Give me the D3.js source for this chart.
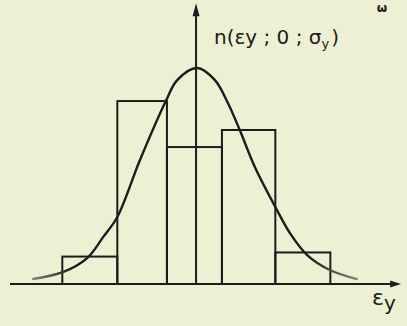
<!DOCTYPE html>
<html>
<head>
<meta charset="utf-8">
<script src="https://cdn.jsdelivr.net/npm/d3@7"></script>
<style>
  html, body { margin: 0; padding: 0; background: #eef0d4; }
  svg { display: block; }
  text { font-family: "DejaVu Sans", sans-serif; fill: #1c1c1c; }
</style>
</head>
<body>
<svg id="chart" width="407" height="326"></svg>
<script>
// Histogram of the error εy (in units of σy) with the fitted normal curve n(εy; 0; σy)
const binEdges   = [-2.48, -1.46, -0.54, 0.48, 1.47, 2.49];
const binHeights = [0.127, 0.847, 0.634, 0.713, 0.146];

// Points (x in σy, height relative to the peak)
const curveX = [-3.02, -2.46, -2.02, -1.72, -1.46, -1.04, -0.56, -0.35, 0.02, 0.35, 0.59, 0.81, 1.09, 1.48, 1.74, 2.06, 2.48, 2.98];
const curveY = [0.023, 0.056, 0.12, 0.218, 0.31, 0.574, 0.847, 0.944, 1.0, 0.944, 0.838, 0.713, 0.542, 0.352, 0.236, 0.134, 0.065, 0.023];

const axisLabelX = ["ε", "y"];
const curveLabel = ["n(εy ; 0 ; σ", "y", ")"];

const svg = d3.select("#chart");
const ink = "#1c1c1c";

const x = d3.scaleLinear().domain([-3.45, 3.8]).range([10, 401]);
const y = d3.scaleLinear().domain([0, 1]).range([284, 68]);

// bars
const bins = binHeights.map((h, i) => ({ x0: binEdges[i], x1: binEdges[i + 1], h }));
svg.append("g").selectAll("rect").data(bins).join("rect")
  .attr("x", d => x(d.x0))
  .attr("y", d => y(d.h))
  .attr("width", d => x(d.x1) - x(d.x0))
  .attr("height", d => y(0) - y(d.h))
  .attr("fill", "none")
  .attr("stroke", ink)
  .attr("stroke-width", 2);

// normal curve, fading slightly toward the tails
const grad = svg.append("defs").append("linearGradient")
  .attr("id", "tail").attr("gradientUnits", "userSpaceOnUse")
  .attr("x1", x(-3.05)).attr("x2", x(3.0)).attr("y1", 0).attr("y2", 0);
[[0, "#8a8a7a"], [0.12, "#1c1c1c"], [0.85, "#1c1c1c"], [1, "#8a8a7a"]].forEach(([o, c]) =>
  grad.append("stop").attr("offset", o).attr("stop-color", c));

const pts = curveX.map((v, i) => [v, curveY[i]]);
svg.append("path")
  .datum(pts)
  .attr("fill", "none")
  .attr("stroke", "url(#tail)")
  .attr("stroke-width", 2.4)
  .attr("stroke-linecap", "round")
  .attr("d", d3.line().x(d => x(d[0])).y(d => y(d[1])).curve(d3.curveCatmullRom.alpha(0.5)));

// axes
const axes = svg.append("g").attr("stroke", ink).attr("stroke-width", 2);
axes.append("line").attr("x1", x(-3.45)).attr("x2", x(3.72)).attr("y1", y(0)).attr("y2", y(0));
axes.append("line").attr("x1", x(0)).attr("x2", x(0)).attr("y1", y(0)).attr("y2", y(1.27));
svg.append("path")
  .attr("fill", ink)
  .attr("d", `M${x(3.8)},${y(0)} L${x(3.6)},${y(0) - 3.5} L${x(3.6)},${y(0) + 3.5} Z`);
svg.append("path")
  .attr("fill", ink)
  .attr("d", `M${x(0)},${y(1.3)} L${x(0) - 3.5},${y(1.24)} L${x(0) + 3.5},${y(1.24)} Z`);

// labels
const lab = svg.append("text").attr("x", 214).attr("y", 44).attr("font-size", 20);
lab.append("tspan").text(curveLabel[0]);
lab.append("tspan").attr("dy", 4).attr("font-size", 13).text(curveLabel[1]);
lab.append("tspan").attr("dy", -4).attr("dx", 2).text(curveLabel[2]);

const xl = svg.append("text").attr("x", 372).attr("y", 305).attr("font-size", 22);
xl.append("tspan").text(axisLabelX[0]);
xl.append("tspan").attr("dy", 5).attr("font-size", 20).text(axisLabelX[1]);

svg.append("text").attr("x", 382).attr("y", 12).attr("font-size", 12)
  .attr("text-anchor", "middle").attr("font-weight", "bold").text("ω");
</script>
</body>
</html>
